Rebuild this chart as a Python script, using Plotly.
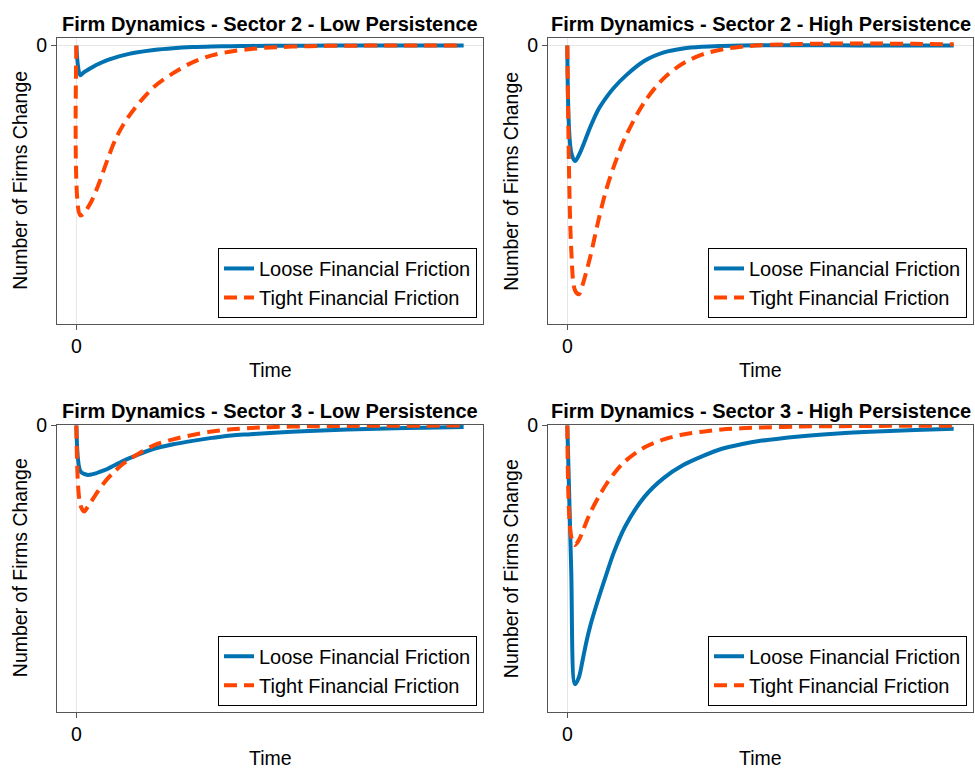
import plotly.graph_objects as go

# Periods after the shock
time = [0, 1, 2, 3, 4, 5, 6, 8, 10, 12, 15, 20, 25, 30, 35, 40, 45, 50, 60, 70, 80, 90, 100]

# Sector 2, low persistence
s2_low_loose = [0, -0.30, -0.27, -0.245, -0.222, -0.20, -0.182, -0.149, -0.122, -0.10, -0.074, -0.045,
                -0.027, -0.016, -0.010, -0.006, -0.004, -0.002, -0.001, 0, 0, 0, 0]
s2_low_tight = [0, -1.72, -1.70, -1.64, -1.57, -1.48, -1.38, -1.16, -0.96, -0.81, -0.64, -0.42,
                -0.28, -0.17, -0.10, -0.06, -0.035, -0.02, -0.006, -0.002, 0, 0, 0]

# Sector 2, high persistence
s2_high_loose = [0, -1.08, -1.17, -1.11, -1.02, -0.92, -0.82, -0.65, -0.53, -0.43, -0.31, -0.155,
                 -0.07, -0.03, -0.013, -0.005, 0, 0.002, 0.003, 0.002, 0.001, 0, 0]
s2_high_tight = [0, -2.05, -2.48, -2.52, -2.42, -2.28, -2.13, -1.78, -1.47, -1.23, -0.93, -0.57,
                 -0.33, -0.18, -0.09, -0.04, -0.012, 0.003, 0.015, 0.02, 0.02, 0.017, 0.012]

# Sector 3, low persistence
s3_low_loose = [0, -0.46, -0.49, -0.50, -0.495, -0.485, -0.47, -0.44, -0.40, -0.36, -0.31, -0.235,
                -0.19, -0.155, -0.125, -0.10, -0.088, -0.075, -0.055, -0.04, -0.03, -0.022, -0.015]
s3_low_tight = [0, -0.80, -0.87, -0.82, -0.76, -0.70, -0.64, -0.54, -0.46, -0.39, -0.31, -0.20,
                -0.14, -0.095, -0.06, -0.038, -0.025, -0.016, -0.008, -0.004, -0.002, -0.001, 0]

# Sector 3, high persistence
s3_high_loose = [0, -1.45, -2.62, -2.55, -2.37, -2.18, -2.02, -1.76, -1.52, -1.29, -1.02, -0.72,
                 -0.53, -0.40, -0.31, -0.235, -0.19, -0.155, -0.11, -0.08, -0.06, -0.045, -0.033]
s3_high_tight = [0, -1.12, -1.21, -1.16, -1.07, -0.97, -0.88, -0.73, -0.60, -0.49, -0.36, -0.22,
                 -0.14, -0.09, -0.062, -0.04, -0.028, -0.02, -0.01, -0.006, -0.004, -0.002, -0.001]

titles = [
    "Firm Dynamics - Sector 2 - Low Persistence",
    "Firm Dynamics - Sector 2 - High Persistence",
    "Firm Dynamics - Sector 3 - Low Persistence",
    "Firm Dynamics - Sector 3 - High Persistence",
]
series_names = ["Loose Financial Friction", "Tight Financial Friction"]
panels = [
    (s2_low_loose, s2_low_tight),
    (s2_high_loose, s2_high_tight),
    (s3_low_loose, s3_low_tight),
    (s3_high_loose, s3_high_tight),
]

W, H = 975, 772
FONT = "Liberation Sans, Arial, sans-serif"
BLUE = "#0072B2"
RED = "#FF4500"
LABEL_SIZE = 19.5

# Plot-area boxes in pixels: (left, right, top, bottom)
boxes = [
    (57, 483, 28, 318),
    (548, 973, 28, 318),
    (57, 483, 420, 711),
    (548, 973, 420, 711),
]
yranges = [[-2.82, 0.08], [-2.82, 0.08], [-2.90, 0.01], [-2.90, 0.01]]

fig = go.Figure()
layout = dict(
    width=W, height=H,
    margin=dict(l=0, r=0, t=0, b=0),
    paper_bgcolor="white", plot_bgcolor="white",
    font=dict(family=FONT, size=LABEL_SIZE, color="black"),
    showlegend=True,
)
annotations = []

for i, ((loose, tight), (l, r, t, b)) in enumerate(zip(panels, boxes)):
    k = "" if i == 0 else str(i + 1)
    xa, ya = "x" + k, "y" + k
    leg = "legend" + k
    fig.add_trace(go.Scatter(
        x=time, y=loose, mode="lines", name=series_names[0],
        line=dict(color=BLUE, width=4, shape="spline", smoothing=0.9),
        xaxis=xa, yaxis=ya, legend=leg))
    fig.add_trace(go.Scatter(
        x=time, y=tight, mode="lines", name=series_names[1],
        line=dict(color=RED, width=4, dash="13px,7px", shape="spline", smoothing=0.9),
        xaxis=xa, yaxis=ya, legend=leg))

    axis_common = dict(
        showline=True, mirror=True, linecolor="#555555", linewidth=1,
        showgrid=True, gridcolor="#e6e6e6", gridwidth=1, zeroline=False,
        ticks="outside", ticklen=5, tickcolor="#555555",
        tickvals=[0], ticktext=["0"],
        tickfont=dict(size=LABEL_SIZE, family=FONT, color="black"),
    )
    layout["xaxis" + k] = dict(axis_common, domain=[l / W, r / W], range=[-5, 105],
                               anchor=ya)
    layout["yaxis" + k] = dict(axis_common, domain=[1 - b / H, 1 - t / H], range=yranges[i],
                               anchor=xa)
    layout[leg] = dict(
        x=(r - 6) / W, y=1 - (b - 6) / H, xanchor="right", yanchor="bottom",
        bgcolor="white", bordercolor="black", borderwidth=1,
        font=dict(size=20, family=FONT, color="black"), tracegroupgap=0,
    )

    cx = (l + r) / 2
    annotations.append(dict(
        text="<b>" + titles[i] + "</b>", x=cx / W, y=1 - (t - 14) / H,
        xref="paper", yref="paper", xanchor="center", yanchor="middle",
        showarrow=False, font=dict(size=20, family=FONT, color="black")))
    annotations.append(dict(
        text="Time", x=cx / W, y=1 - (b + 47) / H,
        xref="paper", yref="paper", xanchor="center", yanchor="middle",
        showarrow=False, font=dict(size=LABEL_SIZE, family=FONT, color="black")))
    annotations.append(dict(
        text="Number of Firms Change", x=(l - 37) / W, y=1 - ((t + b) / 2) / H,
        xref="paper", yref="paper", xanchor="center", yanchor="middle", textangle=-90,
        showarrow=False, font=dict(size=LABEL_SIZE, family=FONT, color="black")))

layout["annotations"] = annotations
fig.update_layout(**layout)

# Let the figure sit flush against the page edges
page_fix = """
var s = document.documentElement.style; s.margin = '0'; s.padding = '0'; s.overflow = 'hidden';
var b = document.body.style; b.margin = '0'; b.padding = '0'; b.overflow = 'hidden';
"""
fig.write_html("out.html", post_script=page_fix)
